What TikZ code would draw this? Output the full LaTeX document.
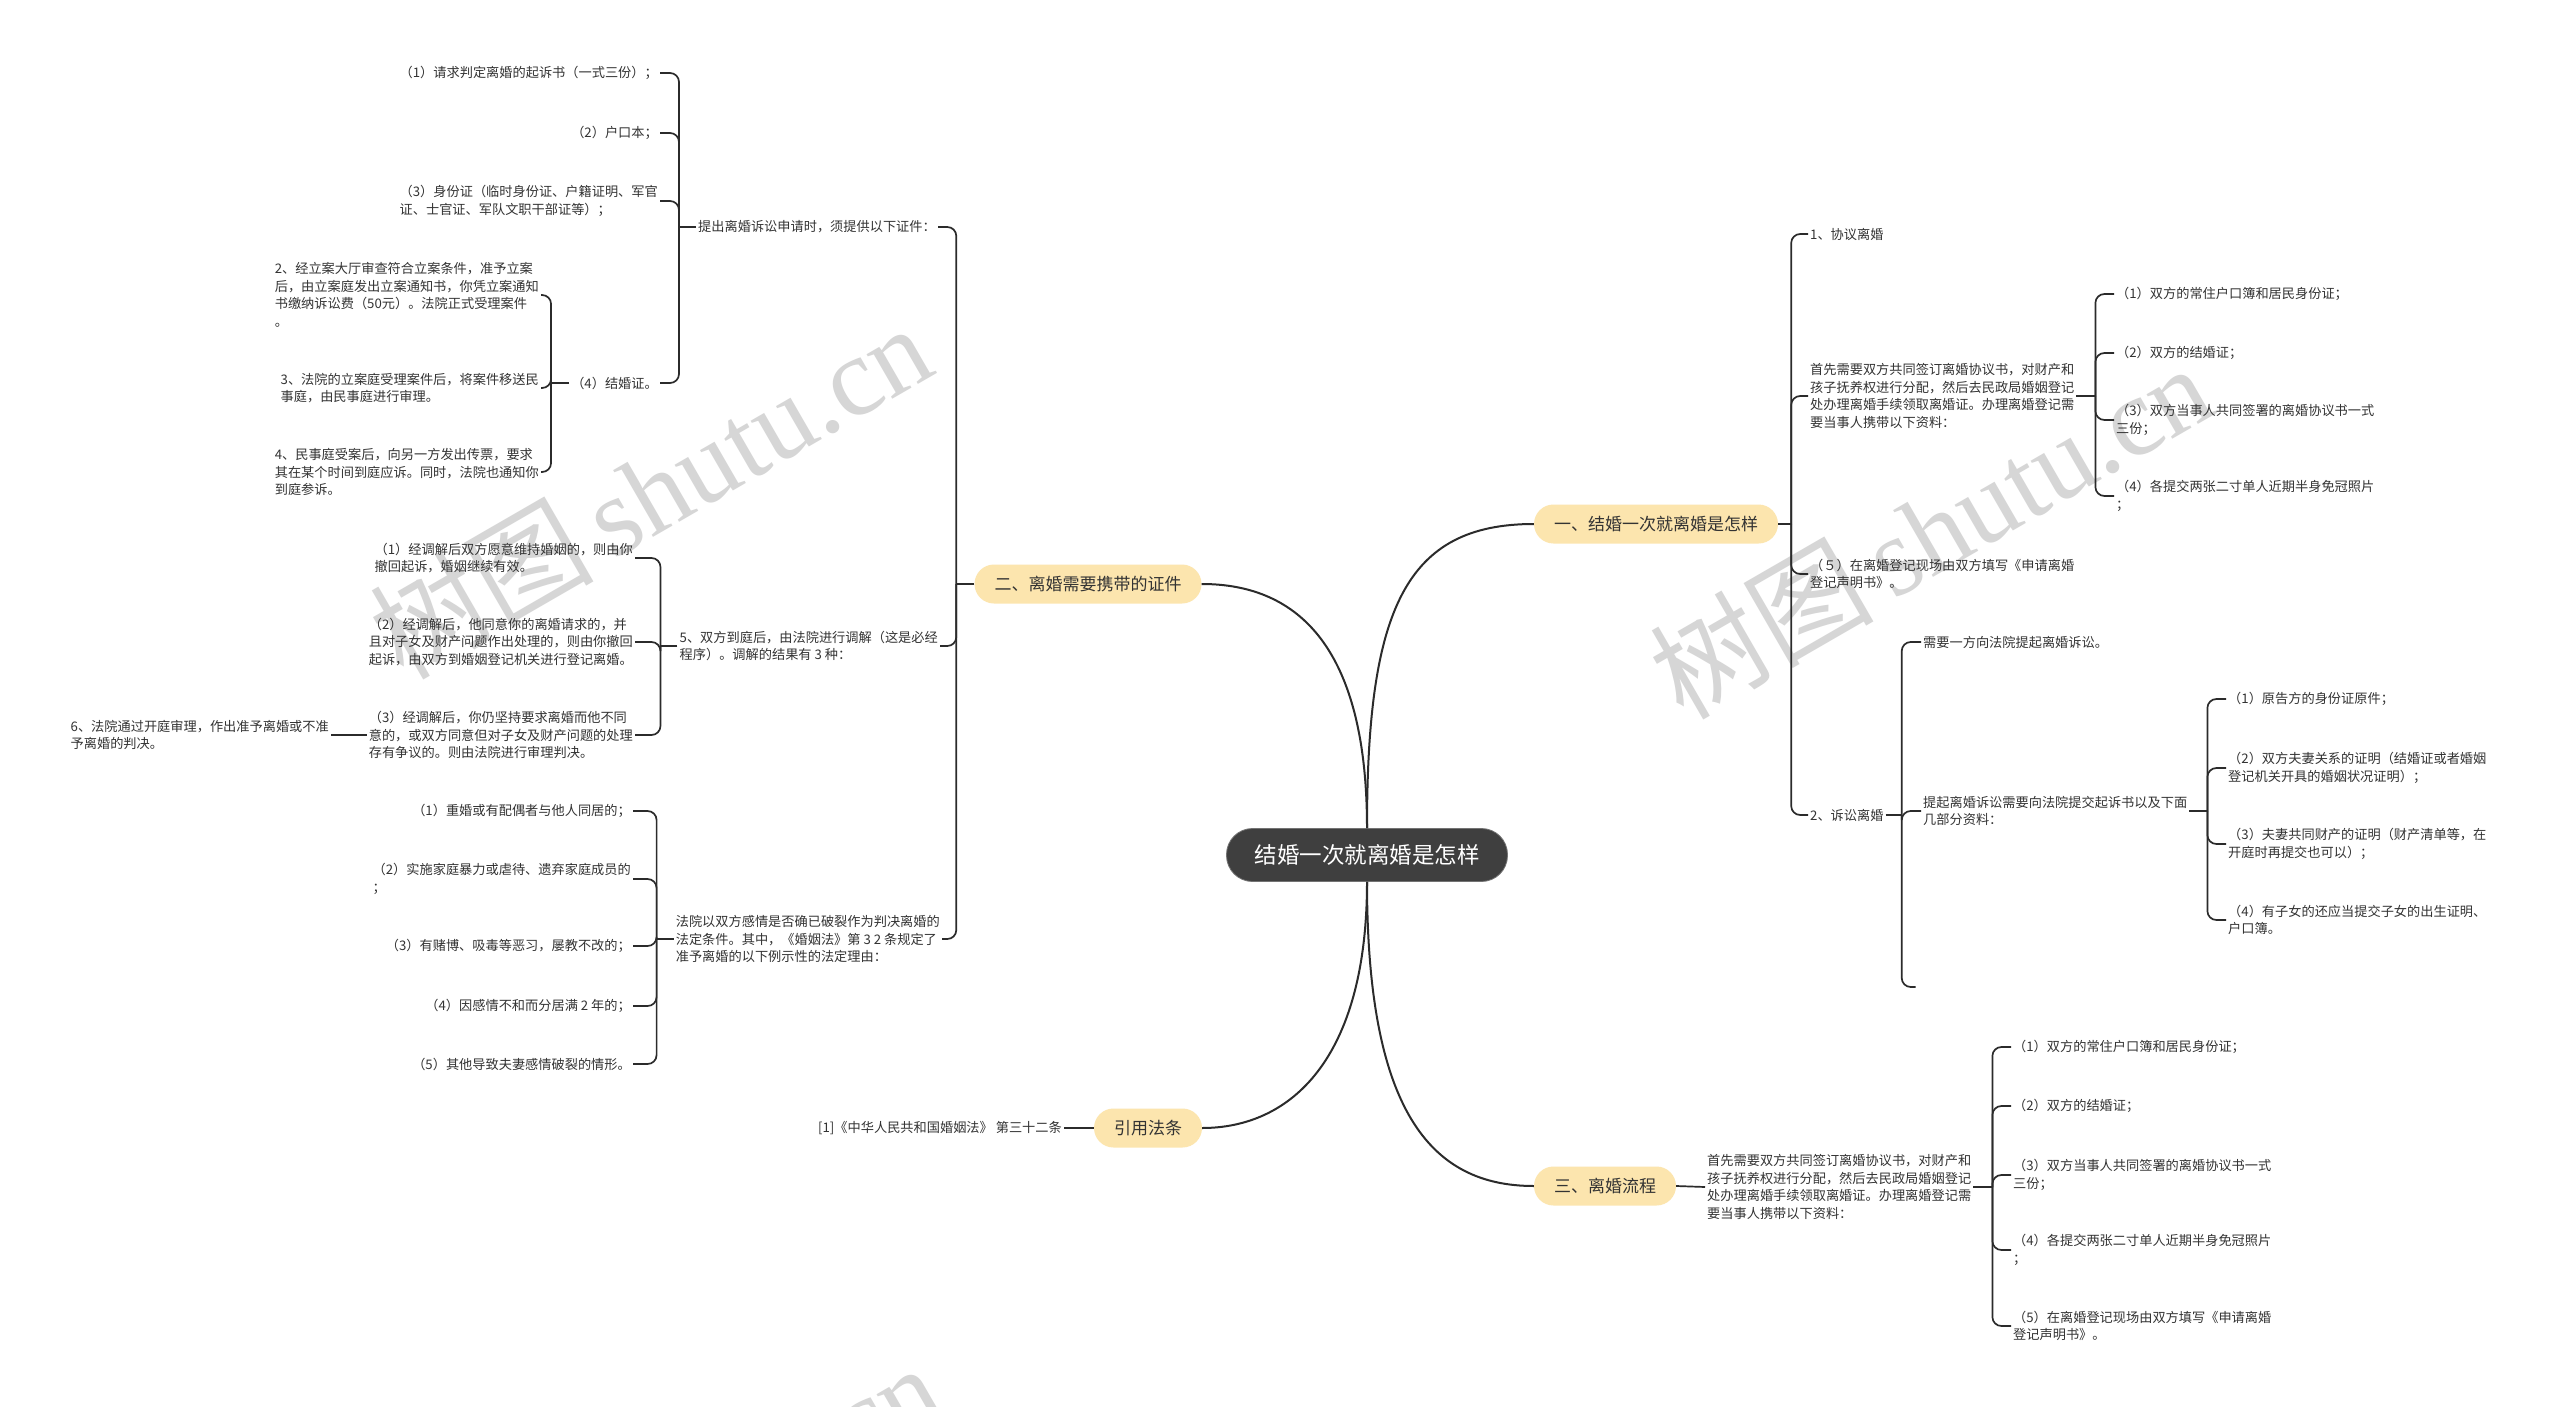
\documentclass[tikz,border=0pt]{standalone}
\usepackage{fontspec}
\setmainfont{Noto Sans CJK SC}
\newfontfamily\wmserif{Liberation Serif}
\usetikzlibrary{calc}
\definecolor{linec}{HTML}{2B2B2B}
\definecolor{textc}{HTML}{333333}
\definecolor{branchc}{HTML}{FCE5AE}
\definecolor{rootc}{HTML}{3F3F3F}
\definecolor{wmc}{HTML}{D6D6D6}
\tikzset{
  txt/.style={font=\fontsize{13.2}{17.6}\selectfont, text=textc, align=left, inner sep=2pt},
  conn/.style={draw=linec, line width=1.7pt},
  br/.style={conn, rounded corners=9pt},
  mainc/.style={draw=linec, line width=2pt},
  branch/.style={fill=branchc, rounded corners=19.5pt, minimum height=39pt, inner xsep=20pt, inner ysep=0pt, font=\fontsize{17}{20}\selectfont, text=textc},
  rootn/.style={fill=rootc, draw=black!55, line width=0.8pt, rounded corners=26pt, minimum height=53pt, minimum width=281pt, font=\fontsize{22.5}{26}\selectfont, text=white},
  wm/.style={text=wmc, font=\fontsize{112}{120}\selectfont, inner sep=0pt}
}
\begin{document}
\begin{tikzpicture}[x=1pt,y=-1pt]
\useasboundingbox (0,0) rectangle (2560,1407);
\fill[white] (0,0) rectangle (2560,1407);
% watermarks
\begin{scope}
\clip (0,0) rectangle (2560,1407);
\node[wm, rotate=30] (wm1) at (650,490) {树图\,{\wmserif shutu.cn}};
\node[wm, rotate=30] (wm2) at (1930,530) {树图\,{\wmserif shutu.cn}};
\node[wm, rotate=30] (wm3) at (660,1530) {树图\,{\wmserif shutu.cn}};
\node[wm, rotate=30] (wm4) at (1945,1575) {树图\,{\wmserif shutu.cn}};
\end{scope}

% root and main branches
\node[rootn] (root) at (1367,855) {结婚一次就离婚是怎样};
\node[branch] (b1) at (1656,524) {一、结婚一次就离婚是怎样};
\node[branch] (b2) at (1088,584) {二、离婚需要携带的证件};
\node[branch] (b3) at (1148,1128) {引用法条};
\node[branch] (b4) at (1605,1186) {三、离婚流程};

\draw[mainc] (root.north) .. controls (1367,610) and (1405,524) .. (b1.west);
\draw[mainc] (root.north) .. controls (1367,650) and (1300,584) .. (b2.east);
\draw[mainc] (root.south) .. controls (1367,1060) and (1290,1128) .. (b3.east);
\draw[mainc] (root.south) .. controls (1367,1110) and (1430,1186) .. (b4.west);

% ===== left: 二 =====
\node[txt, anchor=east] (a0) at (938,227) {提出离婚诉讼申请时，须提供以下证件：};
\node[txt, anchor=east] (a5) at (940,646) {5、双方到庭后，由法院进行调解（这是必经\\程序）。调解的结果有 3 种：};
\node[txt, anchor=east] (a6) at (942,939) {法院以双方感情是否确已破裂作为判决离婚的\\法定条件。其中，《婚姻法》第 3 2 条规定了\\准予离婚的以下例示性的法定理由：};
\coordinate (j0) at ($(b2.west)+(-18,0)$);
\draw[conn] (b2.west) -- (j0);
\draw[br] (j0) |- (a0.east);
\draw[br] (j0) |- (a5.east);
\draw[br] (j0) |- (a6.east);

\node[txt, anchor=east] (a1) at (660,73) {（1）请求判定离婚的起诉书（一式三份）；};
\node[txt, anchor=east] (a2) at (660,133) {（2）户口本；};
\node[txt, anchor=east] (a3) at (660,201) {（3）身份证（临时身份证、户籍证明、军官\\证、士官证、军队文职干部证等）；};
\node[txt, anchor=east] (a4) at (660,383) {（4）结婚证。};
\coordinate (jA) at ($(a0.west)+(-17,0)$);
\draw[conn] (a0.west) -- (jA);
\draw[br] (jA) |- (a1.east);
\draw[br] (jA) |- (a2.east);
\draw[br] (jA) |- (a3.east);
\draw[br] (jA) |- (a4.east);

\node[txt, anchor=east] (a41) at (541,295) {2、经立案大厅审查符合立案条件，准予立案\\后，由立案庭发出立案通知书，你凭立案通知\\书缴纳诉讼费（50元）。法院正式受理案件\\。};
\node[txt, anchor=east] (a42) at (541,388) {3、法院的立案庭受理案件后，将案件移送民\\事庭，由民事庭进行审理。};
\node[txt, anchor=east] (a43) at (541,472) {4、民事庭受案后，向另一方发出传票，要求\\其在某个时间到庭应诉。同时，法院也通知你\\到庭参诉。};
\coordinate (jA4) at ($(a4.west)+(-18,0)$);
\draw[conn] (a4.west) -- (jA4);
\draw[br] (jA4) |- (a41.east);
\draw[br] (jA4) |- (a42.east);
\draw[br] (jA4) |- (a43.east);

\node[txt, anchor=east] (b51) at (635,558) {（1）经调解后双方愿意维持婚姻的，则由你\\撤回起诉，婚姻继续有效。};
\node[txt, anchor=east] (b52) at (635,642) {（2）经调解后，他同意你的离婚请求的，并\\且对子女及财产问题作出处理的，则由你撤回\\起诉，由双方到婚姻登记机关进行登记离婚。};
\node[txt, anchor=east] (b53) at (635,735) {（3）经调解后，你仍坚持要求离婚而他不同\\意的，或双方同意但对子女及财产问题的处理\\存有争议的。则由法院进行审理判决。};
\coordinate (jB) at ($(a5.west)+(-17,0)$);
\draw[conn] (a5.west) -- (jB);
\draw[br] (jB) |- (b51.east);
\draw[br] (jB) |- (b52.east);
\draw[br] (jB) |- (b53.east);
\node[txt, anchor=east] (b531) at (331,735) {6、法院通过开庭审理，作出准予离婚或不准\\予离婚的判决。};
\draw[conn] (b53.west) -- (b531.east);

\node[txt, anchor=east] (c1) at (633,811) {（1）重婚或有配偶者与他人同居的；};
\node[txt, anchor=east] (c2) at (633,879) {（2）实施家庭暴力或虐待、遗弃家庭成员的\\；};
\node[txt, anchor=east] (c3) at (633,946) {（3）有赌博、吸毒等恶习，屡教不改的；};
\node[txt, anchor=east] (c4) at (633,1006) {（4）因感情不和而分居满 2 年的；};
\node[txt, anchor=east] (c5) at (633,1064) {（5）其他导致夫妻感情破裂的情形。};
\coordinate (jC) at ($(a6.west)+(-17,0)$);
\draw[conn] (a6.west) -- (jC);
\draw[br] (jC) |- (c1.east);
\draw[br] (jC) |- (c2.east);
\draw[br] (jC) |- (c3.east);
\draw[br] (jC) |- (c4.east);
\draw[br] (jC) |- (c5.east);

\node[txt, anchor=east] (ref) at (1064,1128) {[1]《中华人民共和国婚姻法》 第三十二条};
\draw[conn] (b3.west) -- (ref.east);

% ===== right: 一 =====
\node[txt, anchor=west] (r1) at (1808,234) {1、协议离婚};
\node[txt, anchor=west] (r2) at (1808,396) {首先需要双方共同签订离婚协议书，对财产和\\孩子抚养权进行分配，然后去民政局婚姻登记\\处办理离婚手续领取离婚证。办理离婚登记需\\要当事人携带以下资料：};
\node[txt, anchor=west] (r3) at (1808,574) {（５）在离婚登记现场由双方填写《申请离婚\\登记声明书》。};
\node[txt, anchor=west] (r4) at (1808,815) {2、诉讼离婚};
\coordinate (j1) at ($(b1.east)+(13,0)$);
\draw[conn] (b1.east) -- (j1);
\draw[br] (j1) |- (r1.west);
\draw[br] (j1) |- (r2.west);
\draw[br] (j1) |- (r3.west);
\draw[br] (j1) |- (r4.west);

\node[txt, anchor=west] (r21) at (2114,294) {（1）双方的常住户口簿和居民身份证；};
\node[txt, anchor=west] (r22) at (2114,353) {（2）双方的结婚证；};
\node[txt, anchor=west] (r23) at (2114,420) {（3）双方当事人共同签署的离婚协议书一式\\三份；};
\node[txt, anchor=west] (r24) at (2114,496) {（4）各提交两张二寸单人近期半身免冠照片\\；};
\coordinate (j2) at ($(r2.east)+(19,0)$);
\draw[conn] (r2.east) -- (j2);
\draw[br] (j2) |- (r21.west);
\draw[br] (j2) |- (r22.west);
\draw[br] (j2) |- (r23.west);
\draw[br] (j2) |- (r24.west);

\node[txt, anchor=west] (r41) at (1921,642) {需要一方向法院提起离婚诉讼。};
\node[txt, anchor=west] (r42) at (1921,811) {提起离婚诉讼需要向法院提交起诉书以及下面\\几部分资料：};
\coordinate (j4) at ($(r4.east)+(16,0)$);
\coordinate (e41) at ($(j4|-0,987)+(14,0)$);
\draw[conn] (r4.east) -- (j4);
\draw[br] (j4) |- (r41.west);
\draw[br] (j4) |- (r42.west);
\draw[br] (j4) |- (e41);

\node[txt, anchor=west] (r421) at (2226,699) {（1）原告方的身份证原件；};
\node[txt, anchor=west] (r422) at (2226,768) {（2）双方夫妻关系的证明（结婚证或者婚姻\\登记机关开具的婚姻状况证明）；};
\node[txt, anchor=west] (r423) at (2226,844) {（3）夫妻共同财产的证明（财产清单等，在\\开庭时再提交也可以）；};
\node[txt, anchor=west] (r424) at (2226,920) {（4）有子女的还应当提交子女的出生证明、\\户口簿。};
\coordinate (j42) at ($(r42.east)+(18,0)$);
\draw[conn] (r42.east) -- (j42);
\draw[br] (j42) |- (r421.west);
\draw[br] (j42) |- (r422.west);
\draw[br] (j42) |- (r423.west);
\draw[br] (j42) |- (r424.west);

% ===== right: 三 =====
\node[txt, anchor=west] (s1) at (1705,1187) {首先需要双方共同签订离婚协议书，对财产和\\孩子抚养权进行分配，然后去民政局婚姻登记\\处办理离婚手续领取离婚证。办理离婚登记需\\要当事人携带以下资料：};
\draw[conn] (b4.east) -- (s1.west);
\node[txt, anchor=west] (s11) at (2011,1047) {（1）双方的常住户口簿和居民身份证；};
\node[txt, anchor=west] (s12) at (2011,1106) {（2）双方的结婚证；};
\node[txt, anchor=west] (s13) at (2011,1175) {（3）双方当事人共同签署的离婚协议书一式\\三份；};
\node[txt, anchor=west] (s14) at (2011,1250) {（4）各提交两张二寸单人近期半身免冠照片\\；};
\node[txt, anchor=west] (s15) at (2011,1326) {（5）在离婚登记现场由双方填写《申请离婚\\登记声明书》。};
\coordinate (j5) at ($(s1.east)+(19,0)$);
\draw[conn] (s1.east) -- (j5);
\draw[br] (j5) |- (s11.west);
\draw[br] (j5) |- (s12.west);
\draw[br] (j5) |- (s13.west);
\draw[br] (j5) |- (s14.west);
\draw[br] (j5) |- (s15.west);
\end{tikzpicture}
\end{document}
